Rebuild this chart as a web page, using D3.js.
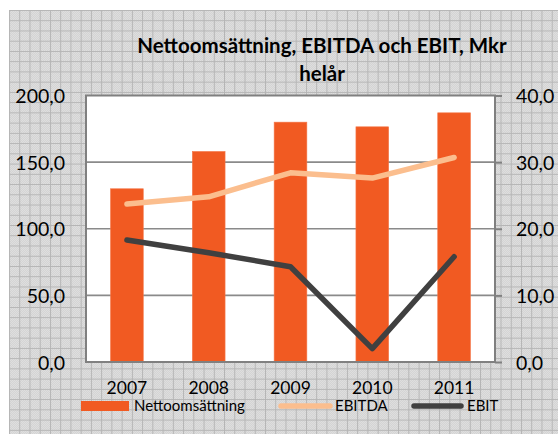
<!DOCTYPE html>
<html>
<head>
<meta charset="utf-8">
<script src="https://cdn.jsdelivr.net/npm/d3@7"></script>
<style>
  html, body { margin: 0; padding: 0; background: #fff; }
  svg { display: block; font-family: Lato, "Open Sans", sans-serif; }
</style>
</head>
<body>
<div id="chart"></div>
<script>
// values
var years = ["2007", "2008", "2009", "2010", "2011"];
var netSales = [130, 158, 180, 176.5, 187];   // left axis, bars
var ebitda = [23.7, 24.8, 28.4, 27.6, 30.7];  // right axis
var ebit = [18.3, 16.4, 14.3, 2.0, 15.8];     // right axis
var leftTicks = [0, 50, 100, 150, 200];
var rightTicks = [0, 10, 20, 30, 40];

var width = 558, height = 434;
var plot = { left: 86, top: 95.5, right: 495, bottom: 362 };

var barColor = "#f15a22", ebitdaColor = "#fbbe8e", ebitColor = "#404040";

var svg = d3.select("#chart").append("svg")
	.attr("width", width)
	.attr("height", height);

//background: excel "small grid" pattern fill
var defs = svg.append("defs");
var dither = defs.append("pattern")
	.attr("id", "dither")
	.attr("patternUnits", "userSpaceOnUse")
	.attr("width", 2).attr("height", 2);
dither.append("rect").attr("width", 2).attr("height", 2).attr("fill", "#d4d4d4");
dither.append("rect").attr("width", 1).attr("height", 1).attr("fill", "#dedede");
dither.append("rect").attr("x", 1).attr("y", 1).attr("width", 1).attr("height", 1).attr("fill", "#dedede");

var grid = defs.append("pattern")
	.attr("id", "grid")
	.attr("patternUnits", "userSpaceOnUse")
	.attr("x", 9).attr("y", 10)
	.attr("width", 10.24).attr("height", 10.24);
grid.append("path")
	.attr("d", "M0.5,0V10.24M0,0.5H10.24")
	.attr("stroke", "#b5b5b5")
	.attr("stroke-width", 1)
	.attr("fill", "none");

svg.append("rect")
	.attr("x", 9).attr("y", 10)
	.attr("width", width - 9).attr("height", height - 10)
	.attr("fill", "url(#dither)");
svg.append("rect")
	.attr("x", 9).attr("y", 10)
	.attr("width", width - 9).attr("height", height - 10)
	.attr("fill", "url(#grid)");

//plot area
svg.append("rect")
	.attr("x", plot.left).attr("y", plot.top)
	.attr("width", plot.right - plot.left)
	.attr("height", plot.bottom - plot.top)
	.attr("fill", "#fff");

//scales
var x = d3.scaleBand()
	.domain(years)
	.range([plot.left, plot.right])
	.paddingInner(0.6)
	.paddingOuter(0.3);

var yLeft = d3.scaleLinear().domain([0, 200]).range([plot.bottom, plot.top]);
var yRight = d3.scaleLinear().domain([0, 40]).range([plot.bottom, plot.top]);

var fmt = function (d) { return d3.format(".1f")(d).replace(".", ","); };

//gridlines
svg.append("g")
	.selectAll("line")
	.data(leftTicks.slice(1, -1))
	.enter().append("line")
	.attr("x1", plot.left).attr("x2", plot.right)
	.attr("y1", function (d) { return yLeft(d); })
	.attr("y2", function (d) { return yLeft(d); })
	.attr("stroke", "#8a8a8a")
	.attr("stroke-width", 1.6);

//bars
svg.append("g")
	.selectAll("rect")
	.data(netSales)
	.enter().append("rect")
	.attr("x", function (d, i) { return x(years[i]); })
	.attr("y", function (d) { return yLeft(d); })
	.attr("width", x.bandwidth())
	.attr("height", function (d) { return yLeft(0) - yLeft(d); })
	.attr("fill", barColor)
	.attr("stroke", "#f4784a")
	.attr("stroke-width", 0.6);

//lines
var line = d3.line()
	.x(function (d, i) { return x(years[i]) + x.bandwidth() / 2; })
	.y(function (d) { return yRight(d); });

svg.append("path")
	.datum(ebitda)
	.attr("d", line)
	.attr("fill", "none")
	.attr("stroke", ebitdaColor)
	.attr("stroke-width", 5.5)
	.attr("stroke-linecap", "round")
	.attr("stroke-linejoin", "round");

svg.append("path")
	.datum(ebit)
	.attr("d", line)
	.attr("fill", "none")
	.attr("stroke", ebitColor)
	.attr("stroke-width", 5.5)
	.attr("stroke-linecap", "round")
	.attr("stroke-linejoin", "round");

//plot border
svg.append("rect")
	.attr("x", plot.left).attr("y", plot.top)
	.attr("width", plot.right - plot.left)
	.attr("height", plot.bottom - plot.top)
	.attr("fill", "none")
	.attr("stroke", "#808080")
	.attr("stroke-width", 2);

//left axis
var leftAxis = svg.append("g")
	.attr("transform", "translate(" + (plot.left - 21) + ",0)")
	.call(d3.axisLeft(yLeft).tickValues(leftTicks).tickFormat(fmt).tickSize(0).tickPadding(0));
leftAxis.select(".domain").remove();
leftAxis.selectAll("text")
	.attr("font-family", "Lato, sans-serif")
	.attr("font-size", 19.5)
	.attr("fill", "#000")
	.attr("dy", 7);

//right axis, ticks outside
var rightAxis = svg.append("g")
	.attr("transform", "translate(" + plot.right + ",0)")
	.call(d3.axisRight(yRight).tickValues(rightTicks).tickFormat(fmt).tickSize(7).tickPadding(14));
rightAxis.select(".domain").remove();
rightAxis.selectAll("line").attr("stroke", "#808080").attr("stroke-width", 2);
rightAxis.selectAll("text")
	.attr("font-family", "Lato, sans-serif")
	.attr("font-size", 19.5)
	.attr("fill", "#000")
	.attr("dy", 7);

//category axis
var bottomAxis = svg.append("g")
	.attr("transform", "translate(0," + plot.bottom + ")")
	.call(d3.axisBottom(x).tickSize(0).tickPadding(0));
bottomAxis.select(".domain").remove();
bottomAxis.selectAll("text")
	.attr("font-family", "Lato, sans-serif")
	.attr("font-size", 17.5)
	.attr("fill", "#000")
	.attr("dy", 32);

//title
var title = svg.append("text")
	.attr("text-anchor", "middle")
	.attr("font-family", "Lato, sans-serif")
	.attr("font-weight", "bold")
	.attr("font-size", 20.5)
	.attr("fill", "#000");
title.append("tspan").attr("x", 322).attr("y", 53).text("Nettoomsättning, EBITDA och EBIT, Mkr");
title.append("tspan").attr("x", 322).attr("y", 81).text("helår");

//legend
var legend = svg.append("g").attr("font-family", "Lato, sans-serif").attr("font-size", 15);

legend.append("rect")
	.attr("x", 81).attr("y", 401)
	.attr("width", 48).attr("height", 10)
	.attr("fill", barColor);
legend.append("text").attr("x", 134).attr("y", 411).text("Nettoomsättning");

legend.append("line")
	.attr("x1", 281).attr("x2", 330)
	.attr("y1", 406).attr("y2", 406)
	.attr("stroke", ebitdaColor)
	.attr("stroke-width", 5.5)
	.attr("stroke-linecap", "round");
legend.append("text").attr("x", 335).attr("y", 411).text("EBITDA");

legend.append("line")
	.attr("x1", 414).attr("x2", 461)
	.attr("y1", 406).attr("y2", 406)
	.attr("stroke", ebitColor)
	.attr("stroke-width", 5.5)
	.attr("stroke-linecap", "round");
legend.append("text").attr("x", 467).attr("y", 411).text("EBIT");
</script>
</body>
</html>
